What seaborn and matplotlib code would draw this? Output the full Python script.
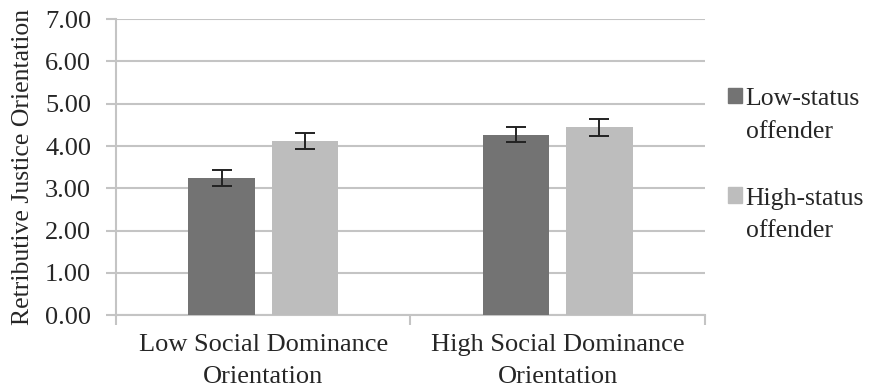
import pandas as pd
import matplotlib
matplotlib.use('Agg')
import matplotlib.pyplot as plt
import matplotlib.patches as mpatches
from matplotlib.legend_handler import HandlerPatch
import seaborn as sns

# Summary values
groups = ['Low Social Dominance\nOrientation', 'High Social Dominance\nOrientation']
offenders = ['Low-status\noffender', 'High-status\noffender']
low_status_means = [3.25, 4.27]
high_status_means = [4.12, 4.44]
low_status_err = [0.19, 0.18]
high_status_err = [0.19, 0.21]

df = pd.DataFrame({
    'group': groups * 2,
    'offender': [offenders[0]] * 2 + [offenders[1]] * 2,
    'score': low_status_means + high_status_means,
    'err': low_status_err + high_status_err,
})

sns.set_style("white")
plt.rcParams['font.family'] = ['Liberation Serif', 'DejaVu Serif']

fig = plt.figure(figsize=(8.75, 3.91), dpi=100)
ax = fig.add_axes([0.1326, 0.194, 0.673, 0.757])

palette = ['#737373', '#bdbdbd']
sns.barplot(data=df, x='group', y='score', hue='offender', palette=palette,
            width=0.565, gap=0.2, errorbar=None, ax=ax, saturation=1,
            edgecolor='none', zorder=3)

# error bars at the bar centres
for cont, off in zip(ax.containers, offenders):
    sub = df[df['offender'] == off]
    xs = [p.get_x() + p.get_width() / 2 for p in cont.patches]
    ax.errorbar(xs, sub['score'], yerr=sub['err'], fmt='none', ecolor='#222222',
                elinewidth=1.4, capsize=7.5, capthick=1.4, zorder=4)

grid_col = '#c4c4c4'
ax.set_ylim(0, 7)
ax.set_xlim(-0.5, 1.5)
ax.set_yticks(range(0, 8))
ax.set_yticklabels([f'{v:.2f}' for v in range(0, 8)])
ax.yaxis.grid(True, color=grid_col, linewidth=1.5, zorder=0)
ax.set_axisbelow(True)

ax.set_xticks([-0.5, 0.5, 1.5])
ax.set_xticklabels([])
ax.set_xticks([0, 1], minor=True)
ax.set_xticklabels(groups, minor=True, fontsize=19, linespacing=1.6)
ax.tick_params(axis='x', which='major', direction='out', length=7, width=1.5,
               color=grid_col, bottom=True)
ax.tick_params(axis='x', which='minor', length=0, pad=13.5)
ax.tick_params(axis='y', direction='out', length=7, width=1.5, color=grid_col,
               left=True, labelsize=19, pad=11)

for s in ['top', 'right']:
    ax.spines[s].set_visible(False)
for s in ['left', 'bottom']:
    ax.spines[s].set_color(grid_col)
    ax.spines[s].set_linewidth(1.5)

ax.set_xlabel('')
ax.set_ylabel('Retributive Justice Orientation', fontsize=18.5, labelpad=8)


def top_square(legend, orig_handle, xdescent, ydescent, width, height, fontsize):
    return mpatches.Rectangle((-xdescent, -ydescent + 0.75 * fontsize), width, height)


handles = [mpatches.Patch(color=c) for c in palette]
leg = ax.legend(handles, offenders, loc='upper left', bbox_to_anchor=(0.820, 0.80),
                bbox_transform=fig.transFigure, frameon=False, fontsize=18.5,
                handlelength=0.55, handleheight=0.55, handletextpad=0.15,
                labelspacing=1.75, borderaxespad=0,
                handler_map={mpatches.Patch: HandlerPatch(patch_func=top_square)})
for t in leg.get_texts():
    t.set_linespacing(1.6)

fig.savefig('out.png', dpi=100)
